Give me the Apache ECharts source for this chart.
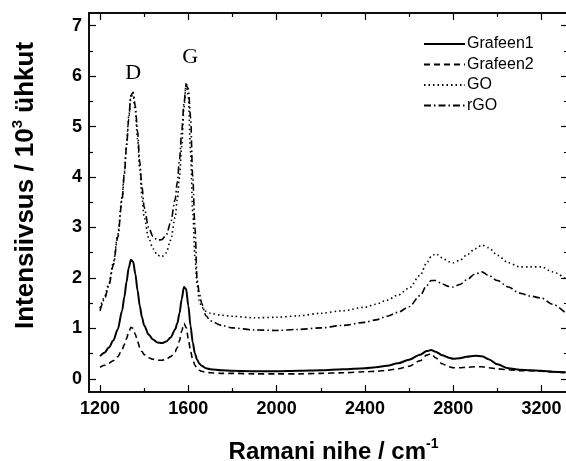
<!DOCTYPE html>
<html>
<head>
<meta charset="utf-8">
<script src="https://cdn.jsdelivr.net/npm/echarts@6/dist/echarts.min.js"></script>
<style>
html,body{margin:0;padding:0;background:#fff;}
#chart{width:566px;height:461px;}
</style>
</head>
<body>
<div id="chart"></div>
<script>
// ---- data ----
var wavenumber = [1200,1220,1240,1260,1280,1300,1310,1320,1330,1340,1350,1360,1370,1380,1390,1400,1420,1440,1460,1480,1500,1520,1540,1550,1560,1570,1580,1590,1600,1610,1620,1630,1640,1650,1660,1680,1700,1750,1800,1900,2000,2100,2200,2300,2400,2450,2500,2550,2600,2650,2680,2700,2720,2750,2780,2800,2830,2860,2900,2930,2960,3000,3050,3100,3150,3200,3250,3310];
var grafeen1 = [0.45,0.52,0.62,0.76,0.98,1.35,1.62,1.92,2.2,2.36,2.32,2.08,1.75,1.45,1.22,1.06,0.88,0.78,0.72,0.71,0.74,0.82,0.98,1.1,1.3,1.58,1.82,1.78,1.45,1.05,0.72,0.5,0.38,0.3,0.26,0.21,0.19,0.17,0.16,0.15,0.15,0.16,0.17,0.19,0.21,0.23,0.26,0.31,0.38,0.48,0.55,0.57,0.54,0.47,0.42,0.4,0.41,0.44,0.46,0.45,0.39,0.29,0.21,0.18,0.17,0.16,0.14,0.13];
var grafeen2 = [0.23,0.27,0.31,0.36,0.44,0.58,0.68,0.8,0.93,1.02,1.0,0.88,0.74,0.62,0.54,0.48,0.42,0.39,0.37,0.37,0.39,0.44,0.54,0.62,0.76,0.95,1.1,1.02,0.8,0.55,0.38,0.27,0.2,0.17,0.15,0.13,0.12,0.11,0.11,0.1,0.1,0.1,0.11,0.12,0.14,0.15,0.17,0.2,0.25,0.36,0.47,0.5,0.42,0.3,0.24,0.22,0.22,0.23,0.24,0.24,0.22,0.2,0.18,0.16,0.16,0.15,0.14,0.12];
var go = [1.4,1.62,1.9,2.3,2.85,3.6,4.1,4.65,5.2,5.6,5.62,5.3,4.75,4.15,3.6,3.2,2.8,2.58,2.45,2.42,2.5,2.75,3.2,3.55,4.0,4.6,5.35,5.88,5.6,4.5,3.3,2.4,1.85,1.55,1.42,1.34,1.3,1.26,1.24,1.21,1.22,1.25,1.3,1.35,1.42,1.48,1.56,1.66,1.8,2.05,2.3,2.42,2.48,2.4,2.32,2.3,2.35,2.45,2.58,2.65,2.6,2.45,2.3,2.22,2.22,2.22,2.12,1.98];
var rgo = [1.35,1.58,1.85,2.25,2.8,3.55,4.05,4.6,5.15,5.62,5.68,5.4,4.9,4.3,3.8,3.4,3.0,2.82,2.75,2.76,2.85,3.1,3.55,3.9,4.35,4.9,5.45,5.82,5.75,5.2,4.0,3.0,1.95,1.7,1.5,1.25,1.15,1.06,1.01,0.97,0.96,0.98,1.01,1.06,1.12,1.17,1.24,1.32,1.43,1.65,1.85,1.95,1.95,1.88,1.83,1.82,1.87,1.96,2.08,2.12,2.05,1.95,1.82,1.7,1.64,1.6,1.48,1.3];
var seriesNames = ['Grafeen1','Grafeen2','GO','rGO'];
var xTickValues = [1200,1600,2000,2400,2800,3200];
var xMinorValues = [1400,1800,2200,2600,3000];
var yTickValues = [0,1,2,3,4,5,6,7];
var yMinorValues = [0.5,1.5,2.5,3.5,4.5,5.5,6.5];
var peakNames = ['D','G'];
var peakPositions = [[1350,6.06],[1608,6.38]];

// ---- chart ----
var FONT = "'Liberation Sans', Arial, sans-serif";
var chart = echarts.init(document.getElementById('chart'), null, {renderer:'canvas'});
var X_MIN = 1150, X_MAX = 3320, Y_MIN = -0.26, Y_MAX = 7.25;

function pairs(vals){ return wavenumber.map(function(x,i){ return [x, vals[i]]; }); }

function xAxisDef(grid, pos, vals, len, labels, name){
  return {
    type:'value', gridIndex:grid, position:pos, min:X_MIN, max:X_MAX,
    axisLine:{show:true, onZero:false, lineStyle:{color:'#000', width:1.5}},
    axisTick:{show:true, inside:true, length:len, customValues:vals, lineStyle:{color:'#000', width:1.2}},
    axisLabel:{show:labels, customValues:vals, color:'#000', fontFamily:FONT, fontWeight:'bold', fontSize:18, margin:8,
      formatter:function(v){ return String(v); }},
    splitLine:{show:false},
    name: name || '', nameLocation:'middle', nameGap:45,
    nameTextStyle:{color:'#000', fontFamily:FONT, fontWeight:'bold', fontSize:24, padding:[0,0,0,10],
      rich:{sup:{fontSize:14, fontWeight:'bold', fontFamily:FONT, color:'#000', verticalAlign:'top', padding:[0,0,16,0]}}}
  };
}
function yAxisDef(grid, pos, vals, len, labels, name){
  return {
    type:'value', gridIndex:grid, position:pos, min:Y_MIN, max:Y_MAX,
    axisLine:{show:true, onZero:false, lineStyle:{color:'#000', width:1.5}},
    axisTick:{show:true, inside:true, length:len, customValues:vals, lineStyle:{color:'#000', width:1.2}},
    axisLabel:{show:labels, customValues:vals, color:'#000', fontFamily:FONT, fontWeight:'bold', fontSize:18, margin:7},
    splitLine:{show:false},
    name: name || '', nameLocation:'middle', nameGap:48, nameRotate:90,
    nameTextStyle:{color:'#000', fontFamily:FONT, fontWeight:'bold', fontSize:26, padding:[0,0,0,34],
      rich:{sup:{fontSize:15, fontWeight:'bold', fontFamily:FONT, color:'#000', padding:[0,0,16,0]}}}
  };
}

var styles = [
  {type:'solid', width:2},
  {type:[6,4], width:1.6},
  {type:[1.5,3], width:1.6},
  {type:[7,3,1.5,3], width:1.6}
];
var dataSets = [grafeen1, grafeen2, go, rgo];

var series = dataSets.map(function(d,i){
  return {
    name: seriesNames[i], type:'line', xAxisIndex:0, yAxisIndex:0,
    data: pairs(d), showSymbol:false, symbol:'none', smooth:0.3, smoothMonotone:'x',
    lineStyle:{color:'#000', width:styles[i].width, type:styles[i].type},
    itemStyle:{color:'#000'}
  };
});
series[3].markPoint = {
  symbol:'circle', symbolSize:0, silent:true,
  label:{show:true, position:'inside', color:'#000', fontFamily:"'Liberation Serif','Times New Roman',serif", fontSize:22,
    formatter:function(p){ return p.name; }},
  data: peakNames.map(function(n,i){ return {name:n, coord:peakPositions[i]}; })
};

var gridRect = {left:89, right:-2, top:13, bottom:69, containLabel:false, outerBoundsMode:'none'};
var option = {
  animation:false,
  backgroundColor:'#fff',
  grid:[Object.assign({}, gridRect), Object.assign({}, gridRect)],
  legend:{
    orient:'vertical', left:418, top:31, itemWidth:41, itemHeight:14, itemGap:4.5,
    itemStyle:{opacity:0},
    textStyle:{color:'#000', fontFamily:FONT, fontSize:16, padding:[0,0,0,-3]},
    data: seriesNames
  },
  xAxis:[
    xAxisDef(0, 'bottom', xTickValues, 7, true, 'Ramani nihe / cm{sup|-1}'),
    xAxisDef(0, 'top', xTickValues, 7, false),
    xAxisDef(1, 'bottom', xMinorValues, 4, false),
    xAxisDef(1, 'top', xMinorValues, 4, false)
  ],
  yAxis:[
    yAxisDef(0, 'left', yTickValues, 7, true, 'Intensiivsus / 10{sup|3} ühkut'),
    yAxisDef(0, 'right', yTickValues, 7, false),
    yAxisDef(1, 'left', yMinorValues, 4, false),
    yAxisDef(1, 'right', yMinorValues, 4, false)
  ],
  series: series
};
chart.setOption(option);
</script>
</body>
</html>
